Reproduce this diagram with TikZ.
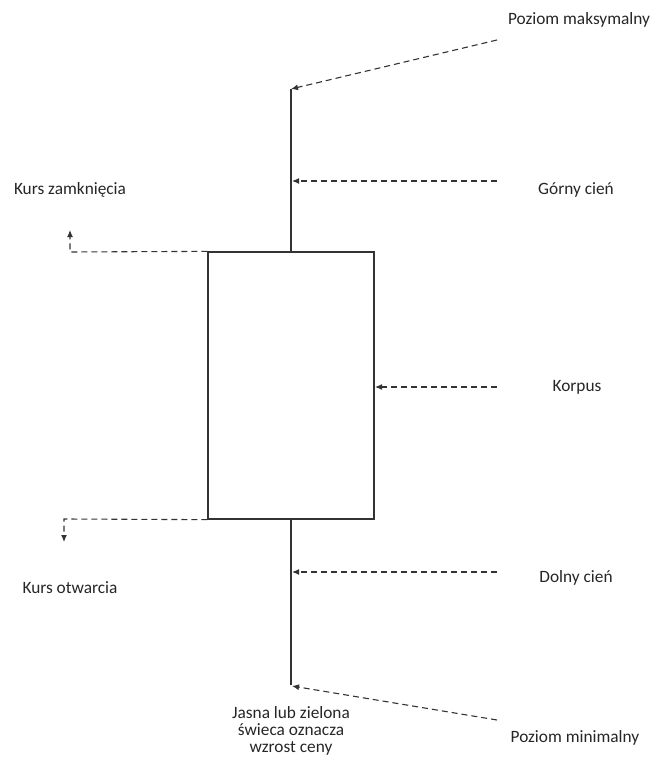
\documentclass[tikz,border=0pt]{standalone}
\usepackage{fontspec}
\setmainfont{Carlito}
\usetikzlibrary{arrows.meta}
\begin{document}
\begin{tikzpicture}[x=1pt,y=-1pt,
  lbl/.style={font=\fontsize{17.3}{20}\selectfont, text=black!85, inner sep=0pt, align=center},
  solidline/.style={line width=1.4pt, black!80},
  ptr/.style={line width=1.1pt, black!80, dash pattern=on 6pt off 4pt, -{Latex[length=7pt,width=6pt]}}]
\useasboundingbox (0,0) rectangle (659,765);
% body
\node[draw=black!80, line width=1.3pt, minimum width=166pt, minimum height=267pt, inner sep=0pt] (body) at (291,385.5) {};
\coordinate (hi) at (291,89);
\coordinate (lo) at (291,685);
\draw[solidline] (body.north -| hi) -- (hi);
\draw[solidline] (body.south -| lo) -- (lo);
% labels
\node[lbl] (maks) at (579,20) {Poziom maksymalny};
\node[lbl] (gorny) at (576,190) {Górny cień};
\node[lbl] (korpus) at (577,387) {Korpus};
\node[lbl] (dolny) at (576,578) {Dolny cień};
\node[lbl] (minim) at (575,738) {Poziom minimalny};
\node[lbl] (zamk) at (70,190) {Kurs zamknięcia};
\node[lbl] (otw) at (70,588) {Kurs otwarcia};
\node[lbl, font=\fontsize{17.3}{17}\selectfont] (jasna) at (291,731) {Jasna lub zielona\\świeca oznacza\\wzrost ceny};
% pointers
\coordinate (s1) at (497,40);
\coordinate (s2) at (497,181);
\coordinate (s3) at (497,387);
\coordinate (s4) at (497,572);
\coordinate (s5) at (497,720);
\coordinate (t2) at (292,181);
\coordinate (t3) at (375,387);
\coordinate (t4) at (292,572);
\coordinate (t5) at (292,686);
\draw[ptr] (s1) -- (hi);
\draw[ptr] (s2) -- (t2);
\draw[ptr] (s3) -- (t3);
\draw[ptr] (s4) -- (t4);
\draw[ptr] (s5) -- (t5);
% open / close
\coordinate (c1) at (70,252);
\coordinate (c2) at (70,230);
\coordinate (o1) at (64,519);
\coordinate (o2) at (64,542);
\draw[ptr] (body.north west) -- (c1) -- (c2);
\draw[ptr] (body.south west) -- (o1) -- (o2);
\end{tikzpicture}
\end{document}
